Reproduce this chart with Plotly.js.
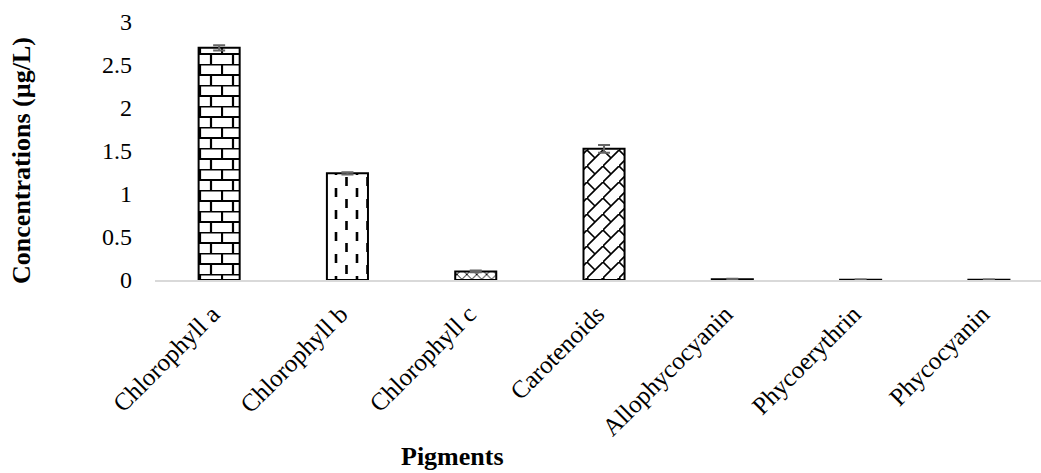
<!DOCTYPE html>
<html>
<head>
<meta charset="utf-8">
<script src="https://cdn.plot.ly/plotly-3.0.1.min.js"></script>
<style>html,body{margin:0;padding:0;background:#fff;overflow:hidden}#chart{width:1041px;height:473px}</style>
</head>
<body>
<div id="chart"></div>
<script>
const categories = ["Chlorophyll a","Chlorophyll b","Chlorophyll c","Carotenoids","Allophycocyanin","Phycoerythrin","Phycocyanin"];
const concentrations = [2.70, 1.24, 0.10, 1.525, 0.010, 0.004, 0.004];
const errors = [0.03, 0.012, 0.01, 0.045, 0.004, 0.002, 0.002];
const patternShapes = ["+", "|", "x", "/", "", "", ""];
const patternSizes = [11, 12, 7, 16, 8, 8, 8];
const yTicks = [0, 0.5, 1, 1.5, 2, 2.5, 3];
const yTickLabels = ["0", "0.5", "1", "1.5", "2", "2.5", "3"];

const font = "Liberation Serif, Times New Roman, serif";

const trace = {
  type: "bar",
  x: categories,
  y: concentrations,
  error_y: {type: "data", array: errors, visible: true, color: "#666666", thickness: 2, width: 6},
  marker: {
    color: "#ffffff",
    line: {color: "#000000", width: 2},
    pattern: {shape: patternShapes, size: patternSizes, fgcolor: "#000000", bgcolor: "#ffffff", solidity: 0.25, fillmode: "replace"}
  },
  hoverinfo: "x+y"
};

const layout = {
  width: 1041, height: 473,
  margin: {l: 155, r: 0, t: 22, b: 192.5},
  paper_bgcolor: "#fff", plot_bgcolor: "#fff",
  bargap: 0.68,
  showlegend: false,
  font: {family: font, size: 24, color: "#000"},
  xaxis: {
    type: "category",
    range: [-0.5, 6.406],
    showline: true, linecolor: "#d9d9d9", linewidth: 1.5,
    showgrid: false, zeroline: false,
    ticks: "", tickangle: -45,
    ticklabelstandoff: 8, ticklabelshift: -7,
    tickfont: {family: font, size: 25, color: "#000"}
  },
  yaxis: {
    range: [0, 3],
    tickvals: yTicks, ticktext: yTickLabels,
    showline: false, showgrid: false, zeroline: false,
    ticks: "", ticklabelstandoff: 22,
    tickfont: {family: font, size: 24, color: "#000"}
  },
  annotations: [
    {text: "<b>Concentrations (µg/L)</b>", xref: "paper", yref: "paper", x: -0.150, y: 0.462, xanchor: "center", yanchor: "middle", textangle: -90, showarrow: false, font: {family: font, size: 26, color: "#000"}},
    {text: "<b>Pigments</b>", xref: "paper", yref: "paper", x: 0.336, y: -0.683, xanchor: "center", yanchor: "middle", showarrow: false, font: {family: font, size: 26, color: "#000"}}
  ]
};

// custom hatch tiles (style only) keyed by bar index
const customTiles = {
  0: {w: 22, h: 21, d: "M0,0.5H22M0,11H22M1,0V11M12,11V21", sw: 2.2, cap: "butt"},
  1: {w: 21, h: 22, d: "M2.5,1V10M13,12V21", sw: 2.6, cap: "butt"},
  3: {w: 16, h: 16, d: "M-2,18L18,-2M0,0L8,8M-2,14L2,18M14,-2L18,2", sw: 1.6, cap: "butt"}
};

Plotly.newPlot("chart", [trace], layout, {displayModeBar: false, staticPlot: true}).then(function (gd) {
  const svgNS = "http://www.w3.org/2000/svg";
  const paths = gd.querySelectorAll(".bars .point path");
  paths.forEach(function (p, i) {
    const tile = customTiles[i];
    if (!tile) return;
    const fill = (p.style.fill || p.getAttribute("fill") || "");
    const m = fill.match(/#([^"')]+)/);
    if (!m) return;
    const pat = document.getElementById(m[1]);
    if (!pat) return;
    pat.setAttribute("width", tile.w);
    pat.setAttribute("height", tile.h);
    while (pat.firstChild) pat.removeChild(pat.firstChild);
    const rect = document.createElementNS(svgNS, "rect");
    rect.setAttribute("width", tile.w); rect.setAttribute("height", tile.h);
    rect.setAttribute("fill", "#ffffff");
    pat.appendChild(rect);
    const path = document.createElementNS(svgNS, "path");
    path.setAttribute("d", tile.d);
    path.setAttribute("stroke", "#000000");
    path.setAttribute("stroke-width", tile.sw);
    path.setAttribute("stroke-linecap", tile.cap);
    path.setAttribute("fill", "none");
    pat.appendChild(path);
  });
});
</script>
</body>
</html>
